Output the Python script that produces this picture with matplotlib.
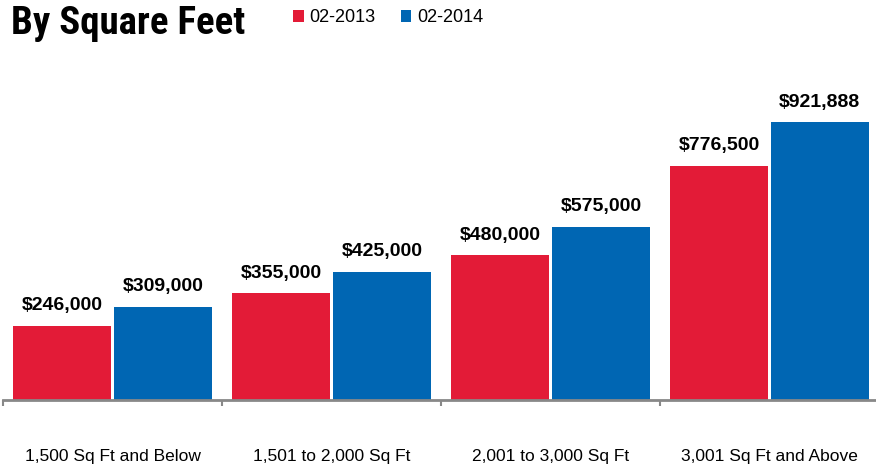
import matplotlib.pyplot as plt
import numpy as np

# data
categories = ['1,500 Sq Ft and Below', '1,501 to 2,000 Sq Ft',
              '2,001 to 3,000 Sq Ft', '3,001 Sq Ft and Above']
vals_2013 = [246000, 355000, 480000, 776500]
vals_2014 = [309000, 425000, 575000, 921888]
series_names = ['02-2013', '02-2014']

red = '#E31B37'
blue = '#0066B3'

plt.rcParams['font.family'] = ['Liberation Sans', 'DejaVu Sans']

fig = plt.figure(figsize=(8.76, 4.67), dpi=100)
W, H = 876, 467
# axes from x=3 to x=879 px, baseline at y=400 px
ax = fig.add_axes([3 / W, (H - 400) / H, 876 / W, 301.6 / H])

x = np.arange(len(categories)) + 0.5
bw = 0.45
off = 0.23
b1 = ax.bar(x - off, vals_2013, bw, color=red, label=series_names[0])
b2 = ax.bar(x + off, vals_2014, bw, color=blue, label=series_names[1])

for bars, vals in [(b1, vals_2013), (b2, vals_2014)]:
    for rect, v in zip(bars, vals):
        ax.text(rect.get_x() + rect.get_width() / 2, v + 66000, f'${v:,.0f}',
                ha='center', va='center', fontsize=14, fontweight='bold')

ax.set_xlim(0, 4)
ax.set_ylim(0, 1000000)
ax.set_xticks([0, 1, 2, 3, 4])
ax.set_xticklabels([])
ax.set_xticks(x, minor=True)
ax.set_xticklabels(categories, minor=True, fontsize=12.5)
ax.tick_params(axis='x', which='minor', length=0, pad=35)
ax.tick_params(axis='x', which='major', length=4, width=1.5, color='#888888')
ax.set_yticks([])
for s in ['top', 'right', 'left']:
    ax.spines[s].set_visible(False)
ax.spines['bottom'].set_color('#888888')
ax.spines['bottom'].set_linewidth(2)

fig.text(11 / W, 1 - 24 / H, 'By Square Feet', fontsize=28, fontweight='heavy',
         family=['Roboto Condensed', 'Liberation Sans'], va='center', ha='left')

leg = fig.legend(handles=[b1, b2], labels=series_names, loc='center left',
                 bbox_to_anchor=(293 / W, 1 - 18 / H), ncol=2, frameon=False,
                 fontsize=13, handlelength=0.6, handleheight=0.6, handletextpad=0.3,
                 columnspacing=1.4, borderpad=0, borderaxespad=0)

fig.savefig('out.png', dpi=100)
